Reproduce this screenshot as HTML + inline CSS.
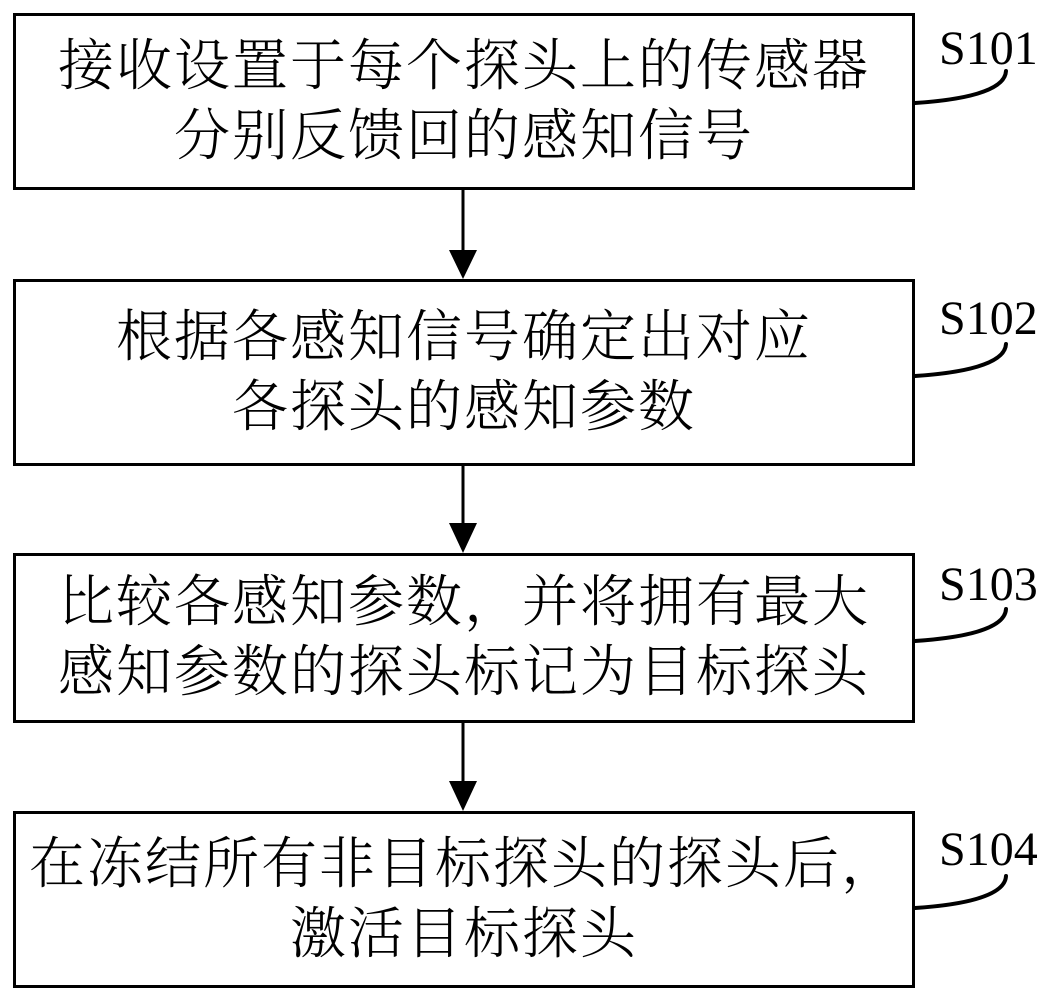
<!DOCTYPE html>
<html><head><meta charset="utf-8"><style>
html,body{margin:0;padding:0;background:#fff;}
body{width:1057px;height:1003px;position:relative;overflow:hidden;}
.box{position:absolute;left:13px;width:896px;border:3px solid #000;display:flex;align-items:center;justify-content:center;text-align:center;font-family:"Liberation Serif","Noto Serif CJK SC",serif;font-weight:300;font-size:56px;line-height:70px;letter-spacing:2px;color:#000;}
.lab{position:absolute;left:939px;font-family:"Liberation Serif",serif;font-size:48px;color:#000;line-height:1;}
svg{position:absolute;left:0;top:0;}
</style></head><body>
<div class="box" style="top:13px;height:171px;">接收设置于每个探头上的传感器<br>分别反馈回的感知信号</div>
<div class="box" style="top:279px;height:181px;">根据各感知信号确定出对应<br>各探头的感知参数</div>
<div class="box" style="top:553px;height:164px;">比较各感知参数，并将拥有最大<br>感知参数的探头标记为目标探头</div>
<div class="box" style="top:811px;height:171px;">在冻结所有非目标探头的探头后，<br>激活目标探头</div>
<div class="lab" style="top:25px;">S101</div>
<div class="lab" style="top:295px;">S102</div>
<div class="lab" style="top:561px;">S103</div>
<div class="lab" style="top:826px;">S104</div>
<svg width="1057" height="1003">
<g stroke="#000" stroke-width="3" fill="none">
<line x1="463" y1="190" x2="463" y2="252"/>
<line x1="463" y1="466" x2="463" y2="525"/>
<line x1="463" y1="723" x2="463" y2="783"/>
</g>
<g fill="#000">
<polygon points="449,250 477,250 463,279"/>
<polygon points="449,523 477,523 463,553"/>
<polygon points="449,781 477,781 463,811"/>
</g>
<g stroke="#000" stroke-width="4" fill="none" stroke-linecap="round">
<path d="M915,103 C960,100 1005,92 1006,71"/>
<path d="M915,376 C960,373 1005,365 1006,344"/>
<path d="M915,641 C960,638 1005,630 1006,609"/>
<path d="M915,908 C960,905 1005,897 1006,876"/>
</g>
</svg>
</body></html>
